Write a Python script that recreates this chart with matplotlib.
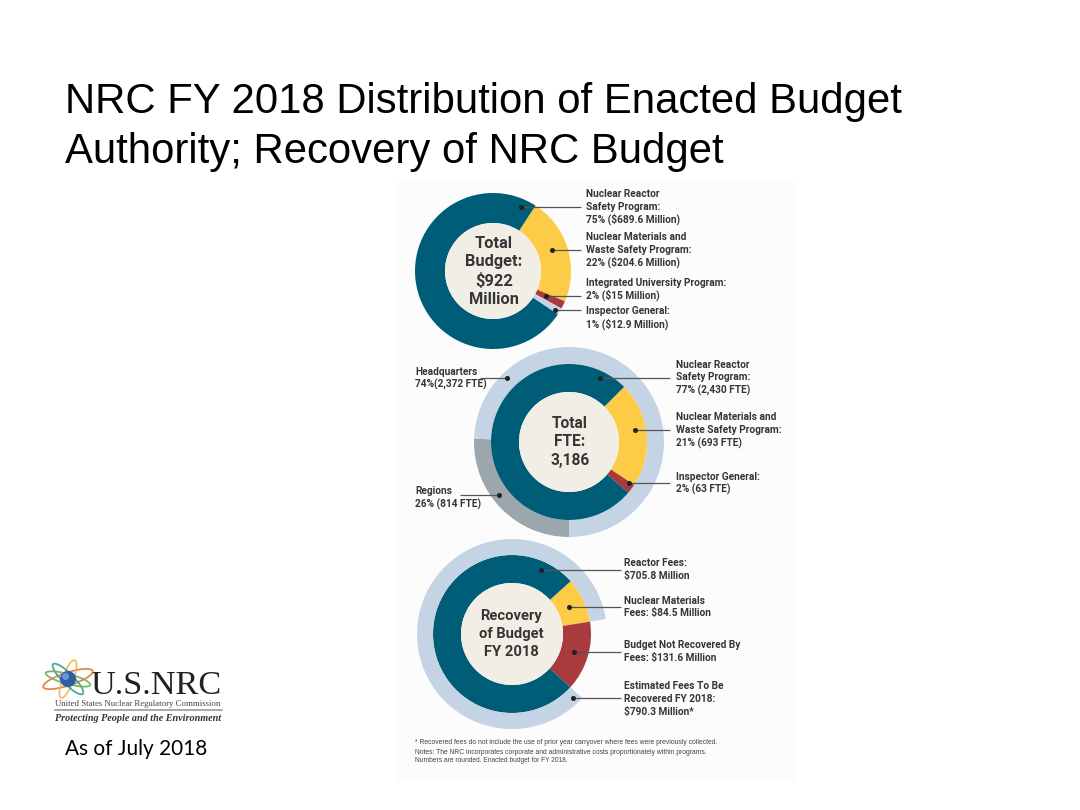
import matplotlib
matplotlib.use("Agg")
import matplotlib.pyplot as plt
from matplotlib.patches import Circle, Ellipse, Rectangle

# ---------------- data ----------------
budget_labels = ["Nuclear Reactor Safety Program", "Nuclear Materials and Waste Safety Program",
                 "Integrated University Program", "Inspector General"]
budget_values = [689.6, 204.6, 15.0, 12.9]
budget_pct = [75, 22, 2, 1]

fte_program_labels = ["Nuclear Reactor Safety Program", "Nuclear Materials and Waste Safety Program",
                      "Inspector General"]
fte_program_values = [2430, 693, 63]
fte_program_pct = [77, 21, 2]

fte_site_labels = ["Headquarters", "Regions"]
fte_site_values = [2372, 814]
fte_site_pct = [74, 26]

recovery_labels = ["Reactor Fees", "Nuclear Materials Fees", "Budget Not Recovered By Fees"]
recovery_values = [705.8, 84.5, 131.6]
recovered_total = 790.3

# ---------------- style ----------------
DARK = "#005d78"
YELLOW = "#fecb47"
RED = "#a93a3e"
LIGHT = "#c4d4e4"
GREY = "#9ba7ad"
BEIGE = "#f1eee5"
TXT = "#353535"
LEAD = "#555555"

LABEL_FONT = ["Liberation Sans Narrow", "Roboto", "DejaVu Sans"]
CENTER_FONT = ["Roboto", "DejaVu Sans"]

W, H = 1080, 810
fig = plt.figure(figsize=(10.8, 8.1), dpi=100)
ax = fig.add_axes([0, 0, 1, 1])


def Y(y):
    return H - y


def fmt_fte(v):
    return f"{v:,}"


# infographic panel (very faint)
ax.add_patch(Rectangle((395, Y(782)), 400, 601, color="#fcfcfc", lw=0, zorder=0))

# ---------------- donut 1: total budget ----------------
c1 = (493, Y(271))
order1 = [1, 2, 3, 0]
ax.pie([budget_values[i] for i in order1], center=c1, radius=78, startangle=57,
       counterclock=False, colors=[YELLOW, RED, LIGHT, DARK],
       wedgeprops=dict(width=30, edgecolor="none", linewidth=0))
ax.add_patch(Circle(c1, 48, color=BEIGE, lw=0, zorder=3))

# ---------------- donut 2: FTE ----------------
c2 = (569, Y(442))
site_total = sum(fte_site_values)
start_sites = 270 - 360 * fte_site_values[1] / site_total
ax.pie([fte_site_values[1], fte_site_values[0]], center=c2, radius=95, startangle=start_sites,
       counterclock=True, colors=[GREY, LIGHT],
       wedgeprops=dict(width=17, edgecolor="none", linewidth=0))
order2 = [1, 2, 0]
ax.pie([fte_program_values[i] for i in order2], center=c2, radius=78, startangle=45,
       counterclock=False, colors=[YELLOW, RED, DARK],
       wedgeprops=dict(width=28, edgecolor="none", linewidth=0))
ax.add_patch(Circle(c2, 50, color=BEIGE, lw=0, zorder=3))

# ---------------- donut 3: recovery ----------------
c3 = (512, Y(634))
rec_total = sum(recovery_values)
start3 = 42
order3 = [1, 2, 0]
ax.pie([recovery_values[i] for i in order3], center=c3, radius=79, startangle=start3,
       counterclock=False, colors=[YELLOW, RED, DARK],
       wedgeprops=dict(width=28, edgecolor="none", linewidth=0))
start3o = start3 - 360 * recovery_values[1] / rec_total
ax.pie([recovery_values[2], recovered_total], center=c3, radius=95, startangle=start3o,
       counterclock=False, colors=["none", LIGHT],
       wedgeprops=dict(width=16, edgecolor="none", linewidth=0))
ax.add_patch(Circle(c3, 51, color=BEIGE, lw=0, zorder=3))

ax.set_xlim(0, W)
ax.set_ylim(0, H)
ax.set_aspect("equal")
ax.axis("off")


# ---------------- helpers ----------------
def lines_text(x, y0, dy, lines, size=7.3, ha="left", family=LABEL_FONT, weight="bold", color=TXT):
    for k, s in enumerate(lines):
        ax.text(x, Y(y0 + k * dy), s, fontsize=size, family=family, weight=weight,
                color=color, ha=ha, va="center", parse_math=False, zorder=5)


def leader(x_dot, x_end, y):
    ax.plot([x_dot, x_end], [Y(y), Y(y)], color=LEAD, lw=0.9, zorder=4, solid_capstyle="butt")
    ax.plot([x_dot], [Y(y)], "o", color="#222222", ms=2.6, zorder=4)


def fit_text(x, y, s, target_w, fs0=10, **kw):
    t = ax.text(x, Y(y), s, fontsize=fs0, parse_math=False, **kw)
    r = fig.canvas.get_renderer()
    bb = t.get_window_extent(r)
    t.set_fontsize(fs0 * target_w / bb.width)
    return t


# ---------------- center labels ----------------
for k, s in enumerate(["Total", "Budget:", f"${round(sum(budget_values))}", "Million"]):
    ax.text(c1[0] + 1, Y(243 + k * 18.8), s, fontsize=11.8, family=CENTER_FONT, weight="bold",
            color=TXT, ha="center", va="center", parse_math=False, zorder=5)
for k, s in enumerate(["Total", "FTE:", fmt_fte(site_total)]):
    ax.text(c2[0] + 1, Y(423 + k * 18.5), s, fontsize=11.2, family=CENTER_FONT, weight="bold",
            color=TXT, ha="center", va="center", parse_math=False, zorder=5)
for k, s in enumerate(["Recovery", "of Budget", "FY 2018"]):
    ax.text(c3[0] - 1, Y(616 + k * 17.8), s, fontsize=10.6, family=CENTER_FONT, weight="bold",
            color=TXT, ha="center", va="center", parse_math=False, zorder=5)

# ---------------- donut 1 callouts ----------------
leader(521, 581, 207)
lines_text(586, 194, 12.5, ["Nuclear Reactor", "Safety Program:",
                            f"{budget_pct[0]}% (${budget_values[0]} Million)"])
leader(552, 581, 250)
lines_text(586, 237.5, 12.5, ["Nuclear Materials and", "Waste Safety Program:",
                              f"{budget_pct[1]}% (${budget_values[1]} Million)"])
leader(546, 581, 296)
lines_text(586, 283, 12.5, ["Integrated University Program:",
                            f"{budget_pct[2]}% (${budget_values[2]:g} Million)"])
leader(555, 581, 309.5)
lines_text(586, 311.5, 13, ["Inspector General:",
                            f"{budget_pct[3]}% (${budget_values[3]} Million)"])

# ---------------- donut 2 callouts ----------------
leader(507, 480, 378)
lines_text(415, 372, 12.5, ["Headquarters", f"{fte_site_pct[0]}%({fmt_fte(fte_site_values[0])} FTE)"])
leader(499, 460, 495)
lines_text(415, 491, 13, ["Regions", f"{fte_site_pct[1]}% ({fmt_fte(fte_site_values[1])} FTE)"])
leader(600, 670, 378)
lines_text(676, 364.5, 12.8, ["Nuclear Reactor", "Safety Program:",
                              f"{fte_program_pct[0]}% ({fmt_fte(fte_program_values[0])} FTE)"])
leader(635, 670, 430)
lines_text(676, 417.5, 12.8, ["Nuclear Materials and", "Waste Safety Program:",
                              f"{fte_program_pct[1]}% ({fmt_fte(fte_program_values[1])} FTE)"])
leader(629, 670, 483)
lines_text(676, 477, 12.5, ["Inspector General:",
                            f"{fte_program_pct[2]}% ({fmt_fte(fte_program_values[2])} FTE)"])

# ---------------- donut 3 callouts ----------------
leader(541, 621, 570)
lines_text(624, 563, 12.5, ["Reactor Fees:", f"${recovery_values[0]} Million"])
leader(569, 621, 607)
lines_text(624, 601, 12, ["Nuclear Materials", f"Fees: ${recovery_values[1]} Million"])
leader(574, 621, 652)
lines_text(624, 645, 12.5, ["Budget Not Recovered By", f"Fees: ${recovery_values[2]} Million"])
leader(573, 621, 698)
lines_text(624, 686, 12.8, ["Estimated Fees To Be", "Recovered FY 2018:",
                            f"${recovered_total} Million*"])

# ---------------- footnote ----------------
fn_kw = dict(family=["Liberation Sans", "DejaVu Sans"], color="#444444", ha="left", va="center")
fit_text(415, 743, "* Recovered fees do not include the use of prior year carryover where fees were previously collected.",
         307, 5, **fn_kw)
fit_text(415, 752.5, "Notes: The NRC incorporates corporate and administrative costs proportionately within programs.",
         299, 5, **fn_kw)
fit_text(415, 760, "Numbers are rounded. Enacted budget for FY 2018.", 156, 5, **fn_kw)

# ---------------- title ----------------
title_kw = dict(family=["Liberation Sans", "Arial", "DejaVu Sans"], color="black", ha="left",
                va="baseline")
t1 = fit_text(65, 113.5, "NRC FY 2018 Distribution of Enacted Budget", 838, 26, **title_kw)
ax.text(65, Y(163.5), "Authority; Recovery of NRC Budget", fontsize=t1.get_fontsize(),
        parse_math=False, **title_kw)

# ---------------- logo ----------------
ac = (68, Y(679))
for wdt, hgt, ang, col in [(52, 13, 18, "#e07b39"), (40, 11, 70, "#f2b552"), (42, 11, 135, "#3b9d9b"),
                           (46, 10, -15, "#6fae5a")]:
    ax.add_patch(Ellipse(ac, wdt, hgt, angle=ang, fill=False, ec=col, lw=1.3, zorder=6, alpha=0.9))
ax.add_patch(Circle(ac, 8, color="#2d5fa6", lw=0, zorder=7))
ax.add_patch(Circle((ac[0] - 2.5, ac[1] + 2.5), 3.5, color="#7fa6d8", lw=0, zorder=7, alpha=0.8))

fit_text(90, 694, "U.S.NRC", 132, 24, family=["Liberation Serif", "DejaVu Serif"], color="#222222",
         ha="left", va="baseline")
fit_text(55, 703.5, "United States Nuclear Regulatory Commission", 167, 6,
         family=["Liberation Serif", "DejaVu Serif"], color="#444444", ha="left", va="center")
ax.plot([55, 222], [Y(710), Y(710)], color="#9a9a9a", lw=1.2)
fit_text(55, 718.5, "Protecting People and the Environment", 167, 7,
         family=["Liberation Serif", "DejaVu Serif"], style="italic", weight="bold", color="#333333",
         ha="left", va="center")

fit_text(65, 755, "As of July 2018", 143, 14, family=["Lato", "Open Sans", "DejaVu Sans"],
         color="black", ha="left", va="baseline")

fig.savefig("out.png", dpi=100, facecolor="white")
